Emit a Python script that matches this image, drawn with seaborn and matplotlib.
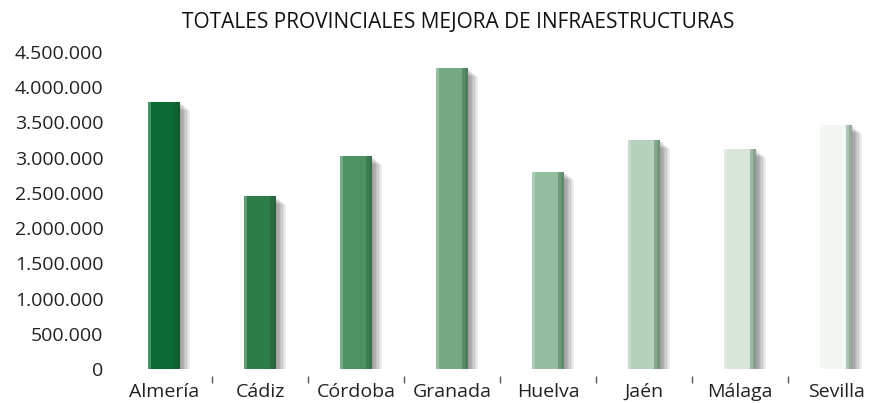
import matplotlib
matplotlib.use("Agg")
import matplotlib.pyplot as plt
import matplotlib.patheffects as pe
from matplotlib.ticker import FuncFormatter, FixedLocator
import seaborn as sns
import pandas as pd

provincias = ['Almería', 'Cádiz', 'Córdoba', 'Granada', 'Huelva', 'Jaén', 'Málaga', 'Sevilla']
totales = [3790000, 2450000, 3020000, 4270000, 2800000, 3250000, 3120000, 3460000]
colores = ['#0a6a35', '#2e7d48', '#4e9163', '#76a886', '#94bc9f', '#b5d0bc', '#d8e6da', '#f2f7f1']
yticks = [0, 500000, 1000000, 1500000, 2000000, 2500000, 3000000, 3500000, 4000000, 4500000]

sns.set_style("white")
plt.rcParams['font.family'] = ['Open Sans', 'DejaVu Sans']

df = pd.DataFrame({"Provincia": provincias, "Total": totales})

fig = plt.figure(figsize=(8.71, 4.03), dpi=100)
ax = fig.add_axes([116 / 871, 34 / 403, (871 - 116) / 871, (369 - 52) / 403])

sns.barplot(data=df, x="Provincia", y="Total", hue="Provincia", palette=colores,
            width=0.33, legend=False, ax=ax, edgecolor='none', saturation=1)

# sombra difusa y borde oscuro a la derecha de cada barra
sombra = [pe.SimplePatchShadow(offset=(d, -d * 0.8), shadow_rgbFace='#3a3a3a', alpha=0.09)
          for d in (1, 2, 3, 4, 5, 6, 7)]
for p in ax.patches:
    p.set_path_effects(sombra + [pe.Normal()])
    x0, w, h = p.get_x(), p.get_width(), p.get_height()
    ax.fill_between([x0 + w * 0.8, x0 + w], 0, h, color='#1f4d2c', alpha=0.3, linewidth=0)
    ax.fill_between([x0 + w * 0.9, x0 + w], 0, h, color='#1f4d2c', alpha=0.2, linewidth=0)
    ax.fill_between([x0, x0 + w * 0.1], 0, h, color='white', alpha=0.25, linewidth=0)

ax.set_ylim(0, 4500000)
ax.set_xlim(-0.5, (871 - 116) / 96 - 0.5)
ax.set_yticks(yticks)
ax.yaxis.set_major_formatter(FuncFormatter(lambda v, _: f"{int(v):,}".replace(",", ".")))
ax.xaxis.set_minor_locator(FixedLocator([0.5, 1.5, 2.5, 3.5, 4.5, 5.5, 6.5]))
ax.tick_params(axis='x', which='major', bottom=False, length=0, pad=5, labelsize=14, colors='#222222')
ax.tick_params(axis='x', which='minor', bottom=True, length=5, width=1, color='#555555', direction='out')
ax.tick_params(axis='y', left=False, length=0, pad=9, labelsize=14, colors='#222222')
ax.spines['bottom'].set_position(('outward', 5))
for s in ax.spines.values():
    s.set_visible(False)
ax.set_xlabel('')
ax.set_ylabel('')

fig.text(458 / 871, 1 - 22 / 403, 'TOTALES PROVINCIALES MEJORA DE INFRAESTRUCTURAS',
         ha='center', va='center', fontsize=15, color='#111111')

fig.savefig('out.png', dpi=100)
